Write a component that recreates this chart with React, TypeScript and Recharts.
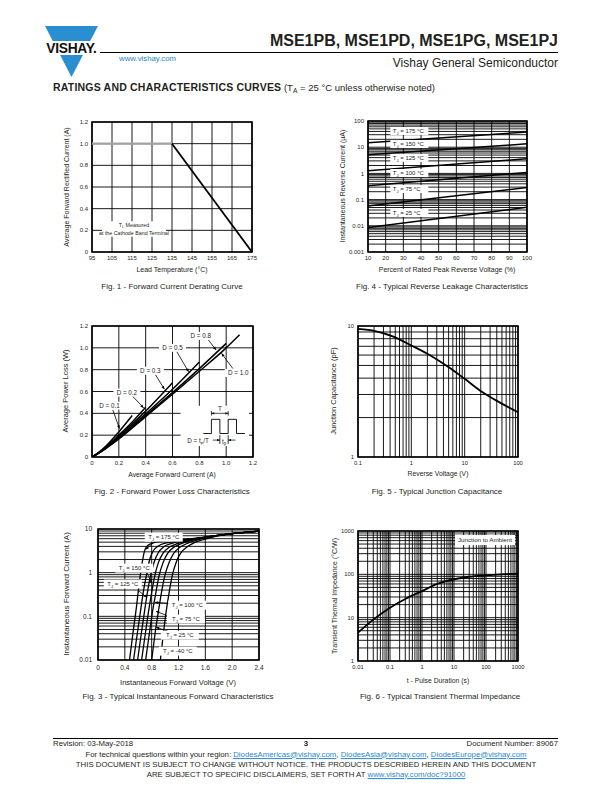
import React from 'react';
import {
  LineChart, Line, XAxis, YAxis, CartesianGrid,
  ReferenceLine, ReferenceArea, ReferenceDot,
} from 'recharts';

const FONT = '"Liberation Sans", Arial, Helvetica, sans-serif';
const INK = '#231f20';
const BLUE = '#2a87c8';

/* ======================= DATA ======================= */
// Fig. 1 - Forward Current Derating Curve
const fig1XTicks = [95, 105, 115, 125, 135, 145, 155, 165, 175];
const fig1YTicks = [0, 0.2, 0.4, 0.6, 0.8, 1.0, 1.2];
const fig1Flat = [{ x: 95, y: 1.0 }, { x: 135, y: 1.0 }];
const fig1Derate = [{ x: 135, y: 1.0 }, { x: 175, y: 0 }];

// Fig. 2 - Forward Power Loss Characteristics
const fig2Ticks = [0, 0.2, 0.4, 0.6, 0.8, 1.0, 1.2];
const fig2D10 = [[0, 0], [0.05, 0.035], [0.1, 0.075], [0.2, 0.165], [0.4, 0.37], [0.6, 0.575], [0.8, 0.785], [1.0, 1.0], [1.1, 1.12]];
const fig2D08 = [[0, 0], [0.05, 0.036], [0.1, 0.077], [0.2, 0.17], [0.4, 0.38], [0.6, 0.59], [0.8, 0.81], [1.0, 1.04]];
const fig2D05 = [[0, 0], [0.05, 0.037], [0.1, 0.08], [0.2, 0.18], [0.4, 0.395], [0.6, 0.62], [0.8, 0.87]];
const fig2D03 = [[0, 0], [0.05, 0.038], [0.1, 0.083], [0.2, 0.19], [0.4, 0.42], [0.6, 0.68]];
const fig2D02 = [[0, 0], [0.05, 0.04], [0.1, 0.087], [0.2, 0.2], [0.3, 0.32], [0.4, 0.455]];
const fig2D01 = [[0, 0], [0.05, 0.042], [0.1, 0.095], [0.2, 0.23], [0.3, 0.38]];
const fig2Pulse = [[0.83, 0.215], [0.89, 0.215], [0.89, 0.345], [0.953, 0.345], [0.953, 0.215], [1.015, 0.215], [1.015, 0.345], [1.077, 0.345], [1.077, 0.215], [1.14, 0.215]];

// Fig. 3 - Typical Instantaneous Forward Characteristics
const fig3XTicks = [0, 0.4, 0.8, 1.2, 1.6, 2.0, 2.4];
const fig3YTicks = [0.01, 0.1, 1, 10];
const fig3T175 = [[0.47, 0.01], [0.52, 0.04], [0.57, 0.15], [0.61, 0.5], [0.65, 1.4], [0.69, 3.0], [0.74, 4.2], [0.82, 4.8], [0.95, 5.2], [1.2, 5.6], [1.4, 6.0], [1.6, 6.5], [2.0, 7.8], [2.4, 8.9]];
const fig3T150 = [[0.53, 0.01], [0.58, 0.035], [0.63, 0.12], [0.68, 0.4], [0.73, 1.0], [0.77, 2.0], [0.82, 3.1], [0.9, 4.1], [1.02, 4.8], [1.2, 5.4], [1.4, 5.9], [1.6, 6.5], [2.0, 7.8], [2.4, 8.9]];
const fig3T125 = [[0.59, 0.01], [0.64, 0.035], [0.69, 0.12], [0.74, 0.38], [0.79, 0.95], [0.84, 1.8], [0.9, 2.9], [0.98, 3.9], [1.1, 4.7], [1.25, 5.3], [1.4, 5.8], [1.6, 6.5], [2.0, 7.8], [2.4, 8.9]];
const fig3T100 = [[0.65, 0.01], [0.7, 0.035], [0.75, 0.12], [0.8, 0.35], [0.85, 0.9], [0.9, 1.7], [0.97, 2.8], [1.06, 3.8], [1.18, 4.6], [1.32, 5.3], [1.45, 5.9], [1.6, 6.5], [2.0, 7.8], [2.4, 8.9]];
const fig3T75 = [[0.71, 0.01], [0.76, 0.035], [0.81, 0.12], [0.86, 0.33], [0.91, 0.85], [0.97, 1.7], [1.04, 2.8], [1.13, 3.8], [1.25, 4.7], [1.38, 5.4], [1.5, 6.0], [1.62, 6.5], [2.0, 7.8], [2.4, 8.9]];
const fig3T25 = [[0.8, 0.01], [0.85, 0.04], [0.9, 0.13], [0.95, 0.38], [1.0, 0.9], [1.06, 1.7], [1.13, 2.8], [1.22, 3.8], [1.33, 4.7], [1.45, 5.4], [1.55, 6.0], [1.65, 6.6], [2.0, 7.8], [2.4, 8.9]];
const fig3TM40 = [[0.93, 0.01], [0.97, 0.035], [1.01, 0.11], [1.06, 0.35], [1.11, 0.9], [1.17, 1.8], [1.24, 2.9], [1.33, 3.9], [1.43, 4.8], [1.55, 5.6], [1.65, 6.2], [1.75, 6.8], [2.0, 7.8], [2.4, 8.9]];

// Fig. 4 - Typical Reverse Leakage Characteristics
const fig4XTicks = [10, 20, 30, 40, 50, 60, 70, 80, 90, 100];
const fig4YTicks = [0.001, 0.01, 0.1, 1, 10, 100];
const fig4T175 = [{ x: 10, y: 14.7 }, { x: 100, y: 37.8 }];
const fig4T150 = [{ x: 10, y: 5.2 }, { x: 100, y: 13.4 }];
const fig4T125 = [{ x: 10, y: 1.27 }, { x: 100, y: 3.6 }];
const fig4T100 = [{ x: 10, y: 0.336 }, { x: 100, y: 1.09 }];
const fig4T75 = [{ x: 10, y: 0.057 }, { x: 100, y: 0.29 }];
const fig4T25 = [{ x: 10, y: 0.0086 }, { x: 100, y: 0.051 }];

// Fig. 5 - Typical Junction Capacitance
const fig5XTicks = [0.1, 1, 10, 100];
const fig5YTicks = [1, 10];
const fig5Cap = [[0.1, 9.5], [0.21, 9.15], [0.46, 8.3], [1, 7.1], [2.2, 6.0], [4.8, 4.9], [10, 3.95], [21, 3.15], [46, 2.6], [100, 2.2]];

// Fig. 6 - Typical Transient Thermal Impedance
const fig6XTicks = [0.01, 0.1, 1, 10, 100, 1000];
const fig6YTicks = [1, 10, 100, 1000];
const fig6Zth = [[0.01, 4.5], [0.03, 9], [0.1, 17], [0.3, 27], [1, 41], [3, 60], [10, 77], [30, 88], [100, 95], [300, 100], [1000, 104]];

/* ======================= HELPERS ======================= */
const pts = (a: number[][]) => a.map(([x, y]) => ({ x, y }));
const logGrid = (from: number, to: number) => {
  const out: number[] = [];
  for (let e = from; e < to; e++) for (let m = 1; m < 10; m++) out.push(Number((m * Math.pow(10, e)).toPrecision(3)));
  out.push(Math.pow(10, to));
  return out;
};
const fmt1 = (v: number) => (v === 0 ? '0' : v.toFixed(1));

type Box = { x0: number; y0: number; x1: number; y1: number };
const L = 46, T = 8, R = 10, B = 30;

const BOX1: Box = { x0: 92, y0: 122, x1: 252, y1: 252 };
const BOX4: Box = { x0: 368, y0: 121, x1: 527, y1: 252 };
const BOX2: Box = { x0: 92, y0: 326, x1: 253, y1: 457 };
const BOX5: Box = { x0: 358, y0: 326, x1: 518, y1: 457 };
const BOX3: Box = { x0: 98, y0: 529, x1: 259, y1: 660 };
const BOX6: Box = { x0: 358, y0: 531, x1: 518, y1: 661 };

function Panel({ box, children }: { box: Box; children: React.ReactNode }) {
  const w = box.x1 - box.x0 + L + R;
  const h = box.y1 - box.y0 + T + B;
  return (
    <div style={{ position: 'absolute', left: box.x0 - L, top: box.y0 - T, width: w, height: h }}>
      <LineChart width={w} height={h} margin={{ top: T, right: R, bottom: 0, left: 0 }}>
        {children}
      </LineChart>
    </div>
  );
}

const tick = (size: number) => ({ fontSize: size, fill: INK, fontFamily: FONT });

const sub = (a: string, s: string, rest: string, size: number) => [
  <tspan key="a">{a}</tspan>,
  <tspan key="b" fontSize={size * 0.7} dy={size * 0.3}>{s}</tspan>,
  <tspan key="c" dy={-size * 0.3}>{rest}</tspan>,
];

type TOpts = { anchor?: 'start' | 'middle' | 'end'; box?: [number, number]; dx?: number; dy?: number };
const textShape = (content: React.ReactNode, size: number, opts: TOpts = {}) => (p: any) => {
  const { cx, cy } = p;
  const anchor = opts.anchor ?? 'middle';
  const dx = opts.dx ?? 0;
  let rect: React.ReactNode = null;
  if (opts.box) {
    const [bw, bh] = opts.box;
    const left = anchor === 'middle' ? cx - bw / 2 : anchor === 'start' ? cx - 1.5 : cx - bw + 1.5;
    rect = <rect x={left} y={cy - bh / 2} width={bw} height={bh} fill="#fff" />;
  }
  return (
    <g>
      {rect}
      <text x={cx + dx} y={cy + (opts.dy ?? 0)} textAnchor={anchor} dominantBaseline="central"
        fontSize={size} fontFamily={FONT} fill={INK}>{content}</text>
    </g>
  );
};

const arrowShape = (both = false, size = 3.4, width = 0.8) => (p: any) => {
  const { x1, y1, x2, y2 } = p;
  const a = Math.atan2(y2 - y1, x2 - x1);
  const head = (x: number, y: number, ang: number, k: string) => {
    const bx = x - size * Math.cos(ang), by = y - size * Math.sin(ang);
    const ox = size * 0.42 * Math.sin(ang), oy = size * 0.42 * Math.cos(ang);
    return <polygon key={k} points={`${x},${y} ${bx + ox},${by - oy} ${bx - ox},${by + oy}`} fill="#000" />;
  };
  return (
    <g>
      <line x1={x1} y1={y1} x2={x2} y2={y2} stroke="#000" strokeWidth={width} />
      {head(x2, y2, a, 'e')}
      {both ? head(x1, y1, a + Math.PI, 's') : null}
    </g>
  );
};

const frame = (x1: number, x2: number, y1: number, y2: number) => (
  <ReferenceArea key="frame" x1={x1} x2={x2} y1={y1} y2={y2} fill="none" stroke="#000" strokeWidth={1.6} ifOverflow="visible" />
);

const curve = (key: string, data: { x: number; y: number }[], width = 1.6, color = '#000', type: any = 'monotone') => (
  <Line key={key} data={data} dataKey="y" type={type} stroke={color} strokeWidth={width} dot={false}
    activeDot={false} isAnimationActive={false} />
);

/* ======================= HTML TEXT ======================= */
function TextAt({ x, y, size = 7, anchor = 'middle', bold = false, color = INK, rotate = false, spacing = 0, children }:
  { x: number; y: number; size?: number; anchor?: 'start' | 'middle' | 'end'; bold?: boolean; color?: string; rotate?: boolean; spacing?: number; children: React.ReactNode }) {
  const tx = anchor === 'middle' ? '-50%' : anchor === 'end' ? '-100%' : '0';
  const transform = rotate ? 'translate(-50%,-50%) rotate(-90deg)' : `translate(${tx},-50%)`;
  return (
    <div style={{
      position: 'absolute', left: x, top: y, transform, whiteSpace: 'nowrap', fontSize: size,
      lineHeight: 1, fontWeight: bold ? 700 : 400, color, fontFamily: FONT, letterSpacing: spacing,
    }}>{children}</div>
  );
}

const Sub = ({ children }: { children: React.ReactNode }) => (
  <span style={{ fontSize: '70%', verticalAlign: '-0.25em' }}>{children}</span>
);
const Lnk = ({ children }: { children: React.ReactNode }) => (
  <span style={{ color: BLUE, textDecoration: 'underline' }}>{children}</span>
);

/* ======================= CHARTS ======================= */
function Fig1() {
  return (
    <Panel box={BOX1}>
      <CartesianGrid stroke="#000" strokeWidth={0.9} verticalValues={fig1XTicks} horizontalValues={fig1YTicks} />
      <XAxis type="number" dataKey="x" domain={[95, 175]} ticks={fig1XTicks} interval={0} allowDataOverflow
        tick={tick(6)} tickLine={false} axisLine={false} height={B} tickSize={3} tickMargin={1} />
      <YAxis type="number" domain={[0, 1.2]} ticks={fig1YTicks} interval={0} allowDataOverflow tickFormatter={fmt1}
        tick={tick(6)} tickLine={false} axisLine={false} width={L} tickSize={3} tickMargin={1} />
      <ReferenceArea x1={100} x2={132} y1={0.14} y2={0.285} fill="#fff" fillOpacity={1} stroke="none" />
      {curve('flat', fig1Flat, 2.2, '#a3a3a3', 'linear')}
      {curve('derate', fig1Derate, 1.8, '#000', 'linear')}
      <ReferenceDot x={116} y={0.245} r={1} shape={textShape(sub('T', 'L', ' Measured', 5.3), 5.3)} />
      <ReferenceDot x={116} y={0.178} r={1} shape={textShape('at the Cathode Band Terminal', 5.3)} />
      {frame(95, 175, 0, 1.2)}
    </Panel>
  );
}

function Fig4() {
  const series = [fig4T175, fig4T150, fig4T125, fig4T100, fig4T75, fig4T25];
  const labels: [string, number][] = [['175', 41.5], ['150', 13.2], ['125', 3.9], ['100', 1.03], ['75', 0.254], ['25', 0.031]];
  return (
    <Panel box={BOX4}>
      <CartesianGrid stroke="#000" strokeWidth={0.9} verticalValues={fig4XTicks} horizontalValues={logGrid(-3, 2)} />
      <XAxis type="number" dataKey="x" domain={[10, 100]} ticks={fig4XTicks} interval={0} allowDataOverflow
        tick={tick(6)} tickLine={false} axisLine={false} height={B} tickSize={3} tickMargin={1} />
      <YAxis type="number" scale="log" domain={[0.001, 100]} ticks={fig4YTicks} interval={0} allowDataOverflow
        tick={tick(6)} tickLine={false} axisLine={false} width={L} tickSize={3} tickMargin={1} />
      {series.map((s, i) => curve('t' + i, s, 1.5, '#000', 'linear'))}
      {labels.map(([t, y]) => (
        <ReferenceDot key={t} x={23.5} y={y} r={1}
          shape={textShape(sub('T', 'J', ` = ${t} °C`, 6), 6, { anchor: 'start', box: [38, 8], dx: 1 })} />
      ))}
      {frame(10, 100, 0.001, 100)}
    </Panel>
  );
}

function Fig2() {
  const series = [fig2D10, fig2D08, fig2D05, fig2D03, fig2D02, fig2D01];
  const labels: [string, number, number][] = [
    ['D = 0.1', 0.13, 0.47], ['D = 0.2', 0.26, 0.59], ['D = 0.3', 0.435, 0.79],
    ['D = 0.5', 0.6, 1.0], ['D = 0.8', 0.81, 1.11], ['D = 1.0', 1.09, 0.77],
  ];
  const arrows: [number, number, number, number][] = [
    [0.155, 0.43, 0.205, 0.26], [0.3, 0.56, 0.385, 0.45], [0.47, 0.76, 0.54, 0.62],
    [0.63, 0.97, 0.72, 0.78], [0.86, 1.085, 0.925, 0.98], [1.05, 0.81, 0.965, 0.95],
  ];
  const seg = (k: string, a: number, b: number, c: number, d: number, shape?: any) => (
    <ReferenceLine key={k} segment={[{ x: a, y: b }, { x: c, y: d }]} stroke="#000" strokeWidth={0.8} shape={shape} />
  );
  return (
    <Panel box={BOX2}>
      <CartesianGrid stroke="#000" strokeWidth={0.9} verticalValues={fig2Ticks} horizontalValues={fig2Ticks} />
      <XAxis type="number" dataKey="x" domain={[0, 1.2]} ticks={fig2Ticks} interval={0} allowDataOverflow tickFormatter={fmt1}
        tick={tick(6)} tickLine={false} axisLine={false} height={B} tickSize={3} tickMargin={1} />
      <YAxis type="number" domain={[0, 1.2]} ticks={fig2Ticks} interval={0} allowDataOverflow tickFormatter={fmt1}
        tick={tick(6)} tickLine={false} axisLine={false} width={L} tickSize={3} tickMargin={1} />
      <ReferenceArea x1={0.66} x2={1.17} y1={0.1} y2={0.47} fill="#fff" fillOpacity={1} stroke="none" />
      {series.map((s, i) => curve('d' + i, pts(s), 1.5))}
      {curve('pulse', pts(fig2Pulse), 0.9, '#000', 'linear')}
      {labels.map(([t, x, y]) => (
        <ReferenceDot key={t} x={x} y={y} r={1} shape={textShape(t, 6.3, { box: [27, 8] })} />
      ))}
      {arrows.map(([a, b, c, d], i) => seg('ar' + i, a, b, c, d, arrowShape()))}
      {seg('tl', 0.89, 0.38, 0.89, 0.42)}
      {seg('tr', 1.015, 0.38, 1.015, 0.42)}
      {seg('tarrow', 0.89, 0.4, 1.015, 0.4, arrowShape(true, 2.8, 0.7))}
      <ReferenceDot x={0.953} y={0.445} r={1} shape={textShape('T', 6.3)} />
      {seg('pl', 0.953, 0.2, 0.953, 0.12)}
      {seg('pr', 1.015, 0.2, 1.015, 0.12)}
      {seg('pa1', 0.9, 0.155, 0.953, 0.155, arrowShape(false, 2.8, 0.7))}
      {seg('pa2', 1.07, 0.155, 1.015, 0.155, arrowShape(false, 2.8, 0.7))}
      <ReferenceDot x={0.984} y={0.15} r={1} shape={textShape(sub('t', 'p', '', 6.3), 6.3)} />
      <ReferenceDot x={0.79} y={0.155} r={1} shape={textShape([
        <tspan key="a">D = t</tspan>, <tspan key="b" fontSize={4.4} dy={1.9}>p</tspan>, <tspan key="c" dy={-1.9}>/T</tspan>,
      ], 6.3)} />
      {frame(0, 1.2, 0, 1.2)}
    </Panel>
  );
}

function Fig5() {
  return (
    <Panel box={BOX5}>
      <CartesianGrid stroke="#000" strokeWidth={0.9} verticalValues={logGrid(-1, 2)} horizontalValues={logGrid(0, 1)} />
      <XAxis type="number" dataKey="x" scale="log" domain={[0.1, 100]} ticks={fig5XTicks} interval={0} allowDataOverflow
        tick={tick(5.8)} tickLine={false} axisLine={false} height={B} tickSize={3} tickMargin={1} />
      <YAxis type="number" scale="log" domain={[1, 10]} ticks={fig5YTicks} interval={0} allowDataOverflow
        tick={tick(5.8)} tickLine={false} axisLine={false} width={L} tickSize={3} tickMargin={1} />
      {curve('cap', pts(fig5Cap), 1.8)}
      {frame(0.1, 100, 1, 10)}
    </Panel>
  );
}

function Fig3() {
  const series = [fig3T175, fig3T150, fig3T125, fig3T100, fig3T75, fig3T25, fig3TM40];
  const labels: [string, number, number][] = [
    ['175', 0.98, 6.5], ['150', 0.54, 1.27], ['125', 0.37, 0.55], ['100', 1.33, 0.18],
    ['75', 1.31, 0.087], ['25', 1.22, 0.037], ['-40', 1.19, 0.016],
  ];
  const arrows: [number, number, number, number][] = [
    [0.86, 5.4, 0.71, 3.4], [0.74, 0.95, 0.8, 0.57], [0.61, 0.38, 0.73, 0.27], [1.07, 0.195, 0.85, 0.21],
    [1.06, 0.1, 0.865, 0.13], [1.04, 0.046, 0.865, 0.056], [0.99, 0.017, 0.95, 0.021],
  ];
  return (
    <Panel box={BOX3}>
      <CartesianGrid stroke="#000" strokeWidth={0.9} verticalValues={fig3XTicks} horizontalValues={logGrid(-2, 1)} />
      <XAxis type="number" dataKey="x" domain={[0, 2.4]} ticks={fig3XTicks} interval={0} allowDataOverflow tickFormatter={fmt1}
        tick={tick(6.5)} tickLine={false} axisLine={false} height={B} tickSize={3} tickMargin={2} />
      <YAxis type="number" scale="log" domain={[0.01, 10]} ticks={fig3YTicks} interval={0} allowDataOverflow
        tick={tick(6.5)} tickLine={false} axisLine={false} width={L} tickSize={3} tickMargin={3} />
      {series.map((s, i) => curve('f' + i, pts(s), 1.3))}
      {arrows.map(([a, b, c, d], i) => (
        <ReferenceLine key={'a' + i} segment={[{ x: a, y: b }, { x: c, y: d }]} stroke="#000" shape={arrowShape(false, 3.2, 0.8)} />
      ))}
      {labels.map(([t, x, y]) => (
        <ReferenceDot key={t} x={x} y={y} r={1}
          shape={textShape(sub('T', 'J', ` = ${t} °C`, 6), 6, { box: [38, 9] })} />
      ))}
      {frame(0, 2.4, 0.01, 10)}
    </Panel>
  );
}

function Fig6() {
  return (
    <Panel box={BOX6}>
      <CartesianGrid stroke="#000" strokeWidth={0.9} verticalValues={logGrid(-2, 3)} horizontalValues={logGrid(0, 3)} />
      <XAxis type="number" dataKey="x" scale="log" domain={[0.01, 1000]} ticks={fig6XTicks} interval={0} allowDataOverflow
        tick={tick(5.8)} tickLine={false} axisLine={false} height={B} tickSize={3} tickMargin={1} />
      <YAxis type="number" scale="log" domain={[1, 1000]} ticks={fig6YTicks} interval={0} allowDataOverflow
        tick={tick(5.8)} tickLine={false} axisLine={false} width={L} tickSize={3} tickMargin={1} />
      {curve('zth', pts(fig6Zth), 1.8)}
      <ReferenceDot x={93} y={620} r={1} shape={textShape('Junction to Ambient', 6.2, { box: [60, 10] })} />
      {frame(0.01, 1000, 1, 1000)}
    </Panel>
  );
}

/* ======================= PAGE ======================= */
export default function App() {
  return (
    <div style={{ position: 'absolute', left: 0, top: 0, width: 612, height: 792, background: '#fff', fontFamily: FONT, color: INK, overflow: 'hidden' }}>
      {/* Logo */}
      <svg style={{ position: 'absolute', left: 0, top: 0 }} width={612} height={100}>
        <polygon points="45,26 98,26 71.5,77" fill="#2a8fd0" />
        <rect x={40} y={41} width={62} height={14} fill="#fff" />
        <text x={71.5} y={53.3} textAnchor="middle" fontFamily={FONT} fontWeight={700} fontSize={13.8} letterSpacing={-0.3} fill="#111">VISHAY.</text>
      </svg>
      <TextAt x={558} y={41} size={16} anchor="end" bold>MSE1PB, MSE1PD, MSE1PG, MSE1PJ</TextAt>
      <div style={{ position: 'absolute', left: 100, top: 51.5, width: 458, height: 1, background: '#000' }} />
      <TextAt x={119} y={58.5} size={7.8} anchor="start" color={BLUE}>www.vishay.com</TextAt>
      <TextAt x={558} y={63} size={12} anchor="end">Vishay General Semiconductor</TextAt>
      <TextAt x={53} y={88} size={9.5} anchor="start">
        <b style={{ fontSize: 10.5, letterSpacing: 0.2 }}>RATINGS AND CHARACTERISTICS CURVES</b> (T<Sub>A</Sub> = 25 °C unless otherwise noted)
      </TextAt>

      <Fig1 />
      <Fig4 />
      <Fig2 />
      <Fig5 />
      <Fig3 />
      <Fig6 />

      {/* axis titles & captions */}
      <TextAt x={66} y={187} size={7} rotate>Average Forward Rectified Current (A)</TextAt>
      <TextAt x={172} y={269} size={7}>Lead Temperature (°C)</TextAt>
      <TextAt x={172} y={287} size={8}>Fig. 1 - Forward Current Derating Curve</TextAt>

      <TextAt x={342} y={186} size={7} rotate>Instantaneous Reverse Current (µA)</TextAt>
      <TextAt x={447} y={269} size={7}>Percent of Rated Peak Reverse Voltage (%)</TextAt>
      <TextAt x={442} y={287} size={8}>Fig. 4 - Typical Reverse Leakage Characteristics</TextAt>

      <TextAt x={66} y={391} size={7.5} rotate>Average Power Loss (W)</TextAt>
      <TextAt x={172} y={475} size={6.8}>Average Forward Current (A)</TextAt>
      <TextAt x={172} y={492} size={8}>Fig. 2 - Forward Power Loss Characteristics</TextAt>

      <TextAt x={334} y={391} size={7.5} rotate>Junction Capacitance (pF)</TextAt>
      <TextAt x={438} y={474} size={6.8}>Reverse Voltage (V)</TextAt>
      <TextAt x={437} y={492} size={8}>Fig. 5 - Typical Junction Capacitance</TextAt>

      <TextAt x={67} y={594} size={8} rotate>Instantaneous Forward Current (A)</TextAt>
      <TextAt x={178} y={683} size={7.5}>Instantaneous Forward Voltage (V)</TextAt>
      <TextAt x={178} y={697} size={8}>Fig. 3 - Typical Instantaneous Forward Characteristics</TextAt>

      <TextAt x={334} y={596} size={7} rotate>Transient Thermal Impedance (°C/W)</TextAt>
      <TextAt x={438} y={681} size={6.8}>t - Pulse Duration (s)</TextAt>
      <TextAt x={440} y={697} size={8}>Fig. 6 - Typical Transient Thermal Impedance</TextAt>

      {/* footer */}
      <div style={{ position: 'absolute', left: 53, top: 737.5, width: 505, height: 1, background: '#000' }} />
      <TextAt x={53} y={743.5} size={7.8} anchor="start">Revision: 03-May-2018</TextAt>
      <TextAt x={306} y={744} size={7.8} bold>3</TextAt>
      <TextAt x={558} y={743.5} size={7.8} anchor="end">Document Number: 89067</TextAt>
      <TextAt x={306} y={754.5} size={7.8}>
        For technical questions within your region: <Lnk>DiodesAmericas@vishay.com</Lnk>, <Lnk>DiodesAsia@vishay.com</Lnk>, <Lnk>DiodesEurope@vishay.com</Lnk>
      </TextAt>
      <TextAt x={306} y={765} size={7.8}>THIS DOCUMENT IS SUBJECT TO CHANGE WITHOUT NOTICE. THE PRODUCTS DESCRIBED HEREIN AND THIS DOCUMENT</TextAt>
      <TextAt x={306} y={774.5} size={7.8}>ARE SUBJECT TO SPECIFIC DISCLAIMERS, SET FORTH AT <Lnk>www.vishay.com/doc?91000</Lnk></TextAt>
    </div>
  );
}
